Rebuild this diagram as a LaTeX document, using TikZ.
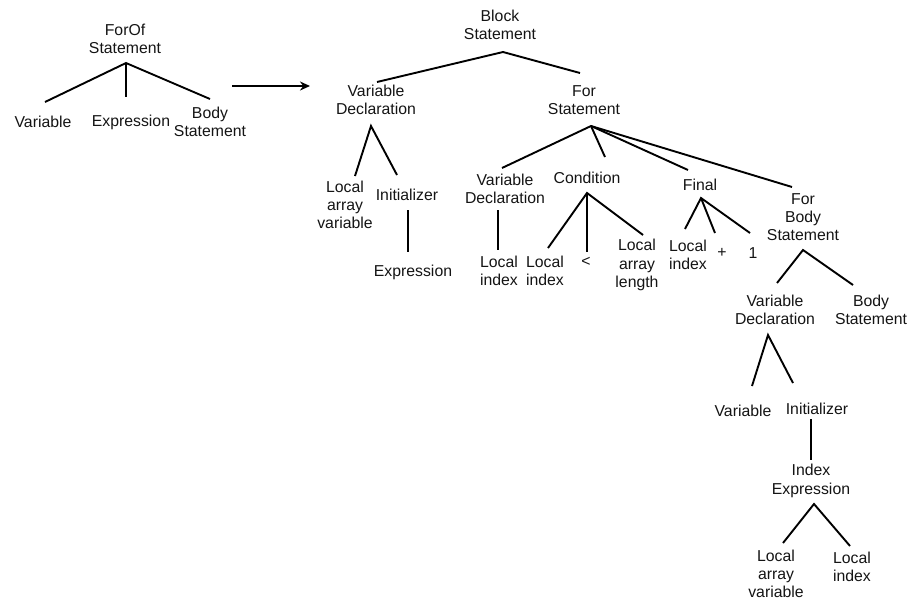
\documentclass[tikz,border=0pt]{standalone}
\usepackage{fontspec}
\setmainfont{Liberation Sans}
\usetikzlibrary{arrows.meta}
\tikzset{
  lbl/.style={align=center, inner sep=0pt, text=black!92, font=\fontsize{15.8}{18.2}\selectfont},
  edge/.style={line width=1.9pt, black},
}
\begin{document}
\begin{tikzpicture}[x=1pt,y=-1pt]
\useasboundingbox (0,0) rectangle (913,600);

% ---- ForOf statement ----
\node[lbl] (forof) at (125,39) {ForOf\\Statement};
\node[lbl] (fvar) at (43,122) {Variable};
\node[lbl] (fexpr) at (131,122) {Expression};
\node[lbl] (fbody) at (210,122) {Body\\Statement};
\coordinate (forof-b) at (126,63);
\coordinate (fvar-t) at (45,102);
\coordinate (fexpr-t) at (126,97);
\coordinate (fbody-t) at (210,99);
\draw[edge] (fvar-t) -- (forof-b) -- (fbody-t);
\draw[edge] (forof-b) -- (fexpr-t);

% ---- transformation arrow ----
\coordinate (arr-s) at (232,86);
\coordinate (arr-e) at (310,86);
\draw[edge, -{Stealth[length=10pt,width=9pt]}] (arr-s) -- (arr-e);

% ---- Block statement ----
\node[lbl] (block) at (500,25) {Block\\Statement};
\coordinate (block-b) at (503,52);
\coordinate (vd1-t) at (377,82);
\coordinate (for-t) at (580,73);
\draw[edge] (vd1-t) -- (block-b) -- (for-t);

% ---- outer variable declaration ----
\node[lbl] (vd1) at (376,100) {Variable\\Declaration};
\node[lbl] (lav1) at (345,205) {Local\\array\\variable};
\node[lbl] (init1) at (407,195) {Initializer};
\node[lbl] (expr1) at (413,272) {Expression};
\coordinate (vd1-b) at (371,126);
\coordinate (lav1-t) at (355,176);
\coordinate (init1-t) at (397,175);
\draw[edge] (lav1-t) -- (vd1-b) -- (init1-t);
\coordinate (init1-b) at (408,210);
\coordinate (expr1-t) at (408,252);
\draw[edge] (init1-b) -- (expr1-t);

% ---- For statement ----
\node[lbl] (for) at (584,100) {For\\Statement};
\coordinate (for-b) at (591,126);
\coordinate (vd2-t) at (502,168);
\coordinate (cond-t) at (605,157);
\coordinate (final-t) at (688,170);
\coordinate (fbs-t) at (792,187);
\draw[edge] (vd2-t) -- (for-b) -- (fbs-t);
\draw[edge] (for-b) -- (cond-t);
\draw[edge] (for-b) -- (final-t);

% init part
\node[lbl] (vd2) at (505,189) {Variable\\Declaration};
\node[lbl] (li1) at (499,271) {Local\\index};
\coordinate (vd2-b) at (498,210);
\coordinate (li1-t) at (498,250);
\draw[edge] (vd2-b) -- (li1-t);

% condition part
\node[lbl] (cond) at (587,178) {Condition};
\node[lbl] (li2) at (545,271) {Local\\index};
\node[lbl] (lt) at (586,262) {<};
\node[lbl] (lal) at (637,265) {Local\\array\\length};
\coordinate (cond-b) at (587,193);
\coordinate (li2-t) at (548,248);
\coordinate (lt-t) at (587,252);
\coordinate (lal-t) at (643,235);
\draw[edge] (li2-t) -- (cond-b) -- (lal-t);
\draw[edge] (cond-b) -- (lt-t);

% final part
\node[lbl] (final) at (700,185) {Final};
\node[lbl] (li3) at (688,255) {Local\\index};
\node[lbl] (plus) at (722,253) {+};
\node[lbl] (one) at (753,253) {1};
\coordinate (final-b) at (701,198);
\coordinate (li3-t) at (685,229);
\coordinate (plus-t) at (715,233);
\coordinate (one-t) at (750,233);
\draw[edge] (li3-t) -- (final-b) -- (one-t);
\draw[edge] (final-b) -- (plus-t);

% body part
\node[lbl] (fbs) at (803,217) {For\\Body\\Statement};
\node[lbl] (vd3) at (775,310) {Variable\\Declaration};
\node[lbl] (bs2) at (871,310) {Body\\Statement};
\coordinate (fbs-b) at (803,250);
\coordinate (vd3-t) at (777,283);
\coordinate (bs2-t) at (853,285);
\draw[edge] (vd3-t) -- (fbs-b) -- (bs2-t);

\node[lbl] (var3) at (743,411) {Variable};
\node[lbl] (init3) at (817,409) {Initializer};
\coordinate (vd3-b) at (768,335);
\coordinate (var3-t) at (752,386);
\coordinate (init3-t) at (793,383);
\draw[edge] (var3-t) -- (vd3-b) -- (init3-t);

\node[lbl] (iexpr) at (811,481) {Index\\Expression};
\coordinate (init3-b) at (811,419);
\coordinate (iexpr-t) at (811,460);
\draw[edge] (init3-b) -- (iexpr-t);

\node[lbl] (lav3) at (776,574) {Local\\array\\variable};
\node[lbl] (li4) at (852,567) {Local\\index};
\coordinate (iexpr-b) at (814,504);
\coordinate (lav3-t) at (783,543);
\coordinate (li4-t) at (850,546);
\draw[edge] (lav3-t) -- (iexpr-b) -- (li4-t);
\end{tikzpicture}
\end{document}
